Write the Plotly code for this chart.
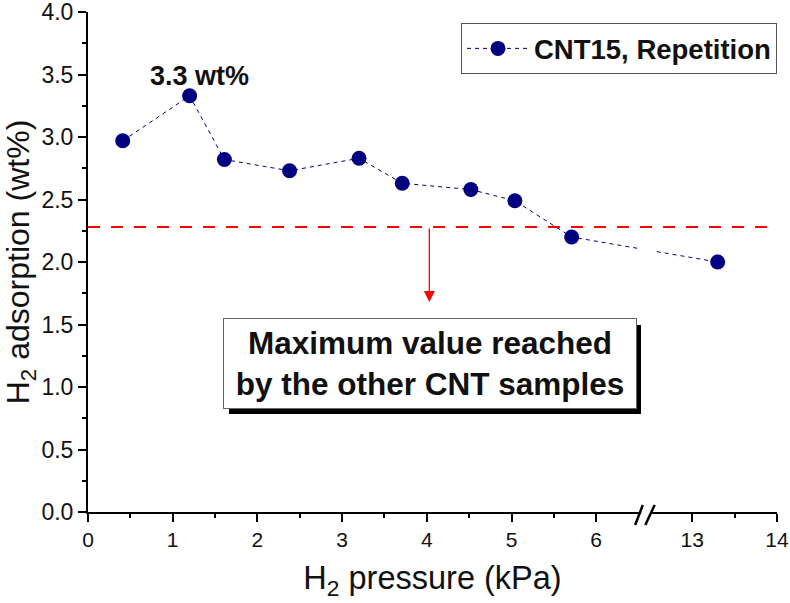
import plotly.graph_objects as go

# ---- data ----
pressure_kpa = [0.41, 1.20, 1.61, 2.38, 3.20, 3.71, 4.52, 5.04, 5.71, 13.30]
adsorption_wt = [2.97, 3.33, 2.82, 2.73, 2.83, 2.63, 2.58, 2.49, 2.20, 2.00]
series_name = "CNT15, Repetition"
max_other_samples = 2.28
peak_label = "3.3 wt%"
box_text = "Maximum value reached<br>by the other CNT samples"
x_tick_labels = ["0", "1", "2", "3", "4", "5", "6", "13", "14"]
x_tick_real = [0, 1, 2, 3, 4, 5, 6, 13, 14]
x_minor_real = [0.5, 1.5, 2.5, 3.5, 4.5, 5.5, 13.5]
y_tick_vals = [0, 0.5, 1, 1.5, 2, 2.5, 3, 3.5, 4]
y_tick_labels = ["0.0", "0.5", "1.0", "1.5", "2.0", "2.5", "3.0", "3.5", "4.0"]
y_minor_vals = [0.25, 0.75, 1.25, 1.75, 2.25, 2.75, 3.25, 3.75]

# broken x axis: values above the break are shifted left
BREAK_START = 6.5
BREAK_OFFSET = 5.866


def to_axis(v):
    return v if v <= BREAK_START else v - BREAK_OFFSET


x_disp = [to_axis(v) for v in pressure_kpa]
font = "Liberation Sans, Arial, sans-serif"

fig = go.Figure()
fig.add_trace(go.Scatter(
    x=x_disp, y=adsorption_wt, name=series_name, mode="lines+markers",
    line=dict(color="#000080", width=1, dash="4px,4px"),
    marker=dict(color="#000080", size=15, symbol="circle"),
    showlegend=True,
))

x_max = to_axis(14)
fig.update_layout(
    width=790, height=603,
    margin=dict(l=88, r=13, t=12, b=91),
    paper_bgcolor="white", plot_bgcolor="white",
    font=dict(family=font, color="#111"),
    xaxis=dict(
        range=[0, x_max + 0.0005], showgrid=False, zeroline=False, automargin=False,
        showline=True, linecolor="black", linewidth=2, ticklabeloverflow="allow",
        ticks="outside", ticklen=8, tickwidth=2, tickcolor="black",
        tickmode="array", tickvals=[to_axis(v) for v in x_tick_real], ticktext=x_tick_labels,
        tickfont=dict(size=21, color="#111"),
        minor=dict(tickmode="array", tickvals=[to_axis(v) for v in x_minor_real],
                   ticks="outside", ticklen=4, tickwidth=2, tickcolor="black"),
        title=dict(text="H<sub>2</sub> pressure (kPa)", font=dict(size=32.5, color="#111"), standoff=16),
    ),
    yaxis=dict(
        range=[0, 4.0005], showgrid=False, zeroline=False, automargin=False,
        showline=True, linecolor="black", linewidth=2, ticklabeloverflow="allow",
        ticks="outside", ticklen=8, tickwidth=2, tickcolor="black",
        tickmode="array", tickvals=y_tick_vals, ticktext=y_tick_labels,
        tickfont=dict(size=23, color="#111"),
        minor=dict(tickmode="array", tickvals=y_minor_vals,
                   ticks="outside", ticklen=4, tickwidth=2, tickcolor="black"),
        title=dict(text="H<sub>2</sub> adsorption (wt%)", font=dict(size=32, color="#111"), standoff=6),
    ),
    legend=dict(
        x=1.0, y=0.978, xanchor="right", yanchor="top",
        bgcolor="white", bordercolor="#555", borderwidth=1,
        font=dict(size=27.5, color="#111", family=font, weight="bold"),
        itemwidth=62, tracegroupgap=0,
    ),
    showlegend=True,
)

# reference line for other samples
fig.add_shape(type="line", xref="paper", x0=0, x1=1, yref="y",
              y0=max_other_samples, y1=max_other_samples,
              line=dict(color="red", width=2, dash="12px,11px"))

# arrow down to the box
arrow_x = 4.03
fig.add_annotation(x=arrow_x, y=1.68, ax=arrow_x, ay=max_other_samples,
                   xref="x", yref="y", axref="x", ayref="y", text="",
                   showarrow=True, arrowhead=2, arrowsize=1.7, arrowwidth=1.3,
                   arrowcolor="red")

# box shadow and box
box_x, box_y = 4.04, 1.19
fig.add_annotation(x=box_x, y=box_y, xref="x", yref="y", text=" ", showarrow=False,
                   width=410, height=87, bgcolor="black", borderwidth=0,
                   xshift=5, yshift=-6)
fig.add_annotation(x=box_x, y=box_y, xref="x", yref="y", text=box_text, showarrow=False,
                   width=410, height=87, bgcolor="white", bordercolor="#666", borderwidth=1,
                   font=dict(size=31.5, color="#111", family=font, weight="bold"))

# peak label
fig.add_annotation(x=1.32, y=3.49, xref="x", yref="y", text=peak_label, showarrow=False,
                   font=dict(size=27, color="#111", family=font, weight="bold"))

# axis break marks (gap in axis line and in the data line)
b0, b1 = 6.53, 6.64
fig.add_shape(type="rect", xref="x", yref="paper", x0=b0, x1=b1, y0=-0.012, y1=0.012,
              fillcolor="white", line=dict(width=0), layer="above")
fig.add_shape(type="rect", xref="x", yref="y", x0=6.52, x1=6.68, y0=2.04, y1=2.16,
              fillcolor="white", line=dict(width=0), layer="above")
for xa, xb in [(6.46, 6.55), (6.58, 6.69)]:
    fig.add_shape(type="line", xref="x", yref="paper", x0=xa, x1=xb, y0=-0.026, y1=0.014,
                  line=dict(color="black", width=2.5), layer="above")

fig.write_html("out.html", config={"displayModeBar": False},
               post_script="document.body.style.margin='0';")
